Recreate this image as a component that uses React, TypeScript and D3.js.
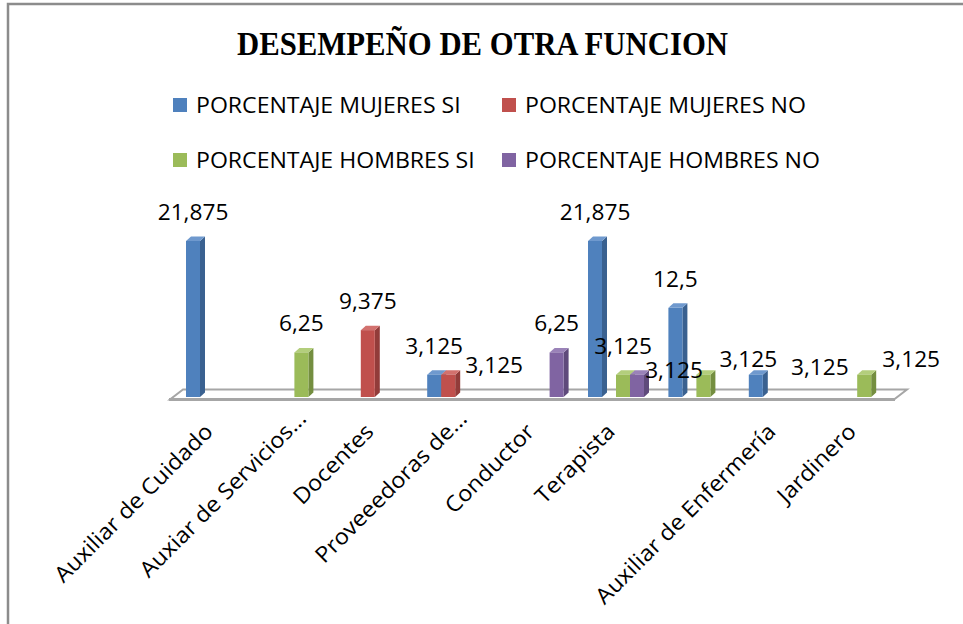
import React from "react";
import * as d3 from "d3";

const TITLE = "DESEMPEÑO DE OTRA FUNCION";
const categories = [
  "Auxiliar de Cuidado",
  "Auxiar de Servicios...",
  "Docentes",
  "Proveeedoras de...",
  "Conductor",
  "Terapista",
  "",
  "Auxiliar de Enfermería",
  "Jardinero",
];
const seriesNames = [
  "PORCENTAJE MUJERES SI",
  "PORCENTAJE MUJERES NO",
  "PORCENTAJE HOMBRES SI",
  "PORCENTAJE HOMBRES NO",
];
const mujeresSi = [21.875, 0, 0, 3.125, 0, 21.875, 12.5, 3.125, 0];
const mujeresNo = [0, 0, 9.375, 3.125, 0, 0, 0, 0, 0];
const hombresSi = [0, 6.25, 0, 0, 0, 3.125, 3.125, 0, 3.125];
const hombresNo = [0, 0, 0, 0, 6.25, 3.125, 0, 0, 0];
const seriesValues = [mujeresSi, mujeresNo, hombresSi, hombresNo];

// styling
const colors = [
  { front: "#4F81BD", side: "#3A6190", top: "#6F99CE" },
  { front: "#C0504D", side: "#923C3A", top: "#D2716E" },
  { front: "#9BBB59", side: "#748E40", top: "#B3CE7C" },
  { front: "#8064A2", side: "#5F4A7B", top: "#9A82B8" },
];
// label placement nudges (Excel 3D collision shifts), keyed "series-category": [dx, baseline offset from top]
const labelNudge: Record<string, [number, number]> = {
  "1-3": [46, -2],
  "3-5": [37, 3],
  "2-6": [45, -8],
  "0-7": [64, 0],
  "2-8": [47, -8],
};

const FONT = "'Open Sans', 'DejaVu Sans', sans-serif";

export default function App() {
  const W = 963;
  const H = 624;
  const base = 397;
  const x = d3
    .scaleBand<number>()
    .domain(categories.map((_, i) => i))
    .range([174, 174 + 9 * 80.4])
    .padding(0);
  const xs = d3
    .scaleBand<number>()
    .domain([0, 1, 2, 3])
    .range([12, 68])
    .padding(0);
  const y = d3.scaleLinear().domain([0, 21.875]).range([base, 241]);
  const dx = 5;
  const dy = -4.5;
  const bw = xs.bandwidth();

  const fmt = (v: number) => String(v).replace(".", ",");

  const bars: any[] = [];
  const labels: any[] = [];
  categories.forEach((_, c) => {
    seriesValues.forEach((vals, s) => {
      const v = vals[c];
      if (!v) return;
      const x0 = (x(c) as number) + (xs(s) as number);
      const x1 = x0 + bw;
      const t = y(v);
      const col = colors[s];
      bars.push(
        <g key={`b${s}-${c}`}>
          <polygon
            points={`${x1},${t} ${x1 + dx},${t + dy} ${x1 + dx},${base + dy} ${x1},${base}`}
            fill={col.side}
          />
          <polygon
            points={`${x0},${t} ${x0 + dx},${t + dy} ${x1 + dx},${t + dy} ${x1},${t}`}
            fill={col.top}
          />
          <rect x={x0} y={t} width={bw} height={base - t} fill={col.front} />
        </g>
      );
      const nudge = labelNudge[`${s}-${c}`] || [0, -21];
      const lx = x0 + bw / 2 + nudge[0];
      const ly = t + nudge[1];
      labels.push(
        <text
          key={`l${s}-${c}`}
          transform={`translate(${lx},${ly}) scale(1.08,1)`}
          textAnchor="middle"
          fontFamily={FONT}
          fontSize={21}
          fill="#000"
        >
          {fmt(v)}
        </text>
      );
    });
  });

  const legendPos = [
    [173, 98],
    [502, 98],
    [173, 153],
    [502, 153],
  ];

  return (
    <svg
      width={W}
      height={H}
      style={{ position: "absolute", left: 0, top: 0, background: "#fff" }}
    >
      <rect x={0} y={0} width={W} height={H} fill="#fff" />
      <rect
        x={8}
        y={4}
        width={1200}
        height={900}
        fill="#fff"
        stroke="#8c8c8c"
        strokeWidth={2.5}
      />
      <text
        x={482.5}
        y={55}
        textAnchor="middle"
        fontFamily="'Liberation Serif', 'Times New Roman', serif"
        fontWeight="bold"
        fontSize={34}
        textLength={491}
        lengthAdjust="spacingAndGlyphs"
      >
        {TITLE}
      </text>
      {seriesNames.map((n, i) => (
        <g key={n}>
          <rect
            x={legendPos[i][0]}
            y={legendPos[i][1]}
            width={14}
            height={14}
            fill={colors[i].front}
          />
          <text
            transform={`translate(${legendPos[i][0] + 23},${legendPos[i][1] + 15}) scale(1.1,1)`}
            fontFamily={FONT}
            fontSize={21}
          >
            {n}
          </text>
        </g>
      ))}
      {/* floor */}
      <polygon
        points="170,399.5 894,399.5 907,389.5 183,389.5"
        fill="#fff"
        stroke="#a6a6a6"
        strokeWidth={2}
      />
      {bars}
      <line x1={169} x2={895} y1={399.5} y2={399.5} stroke="#a6a6a6" strokeWidth={3} />
      {labels}
      {categories.map((c, i) => {
        const trunc = c.endsWith("...") ? 13 : 0;
        return (
          <text
            key={`c${i}`}
            transform={`translate(${(x(i) as number) + x.bandwidth() / 2 + trunc},${433 - trunc}) rotate(-45) scale(1.07,1)`}
            textAnchor="end"
            fontFamily={FONT}
            fontSize={22}
          >
            {c}
          </text>
        );
      })}
    </svg>
  );
}
